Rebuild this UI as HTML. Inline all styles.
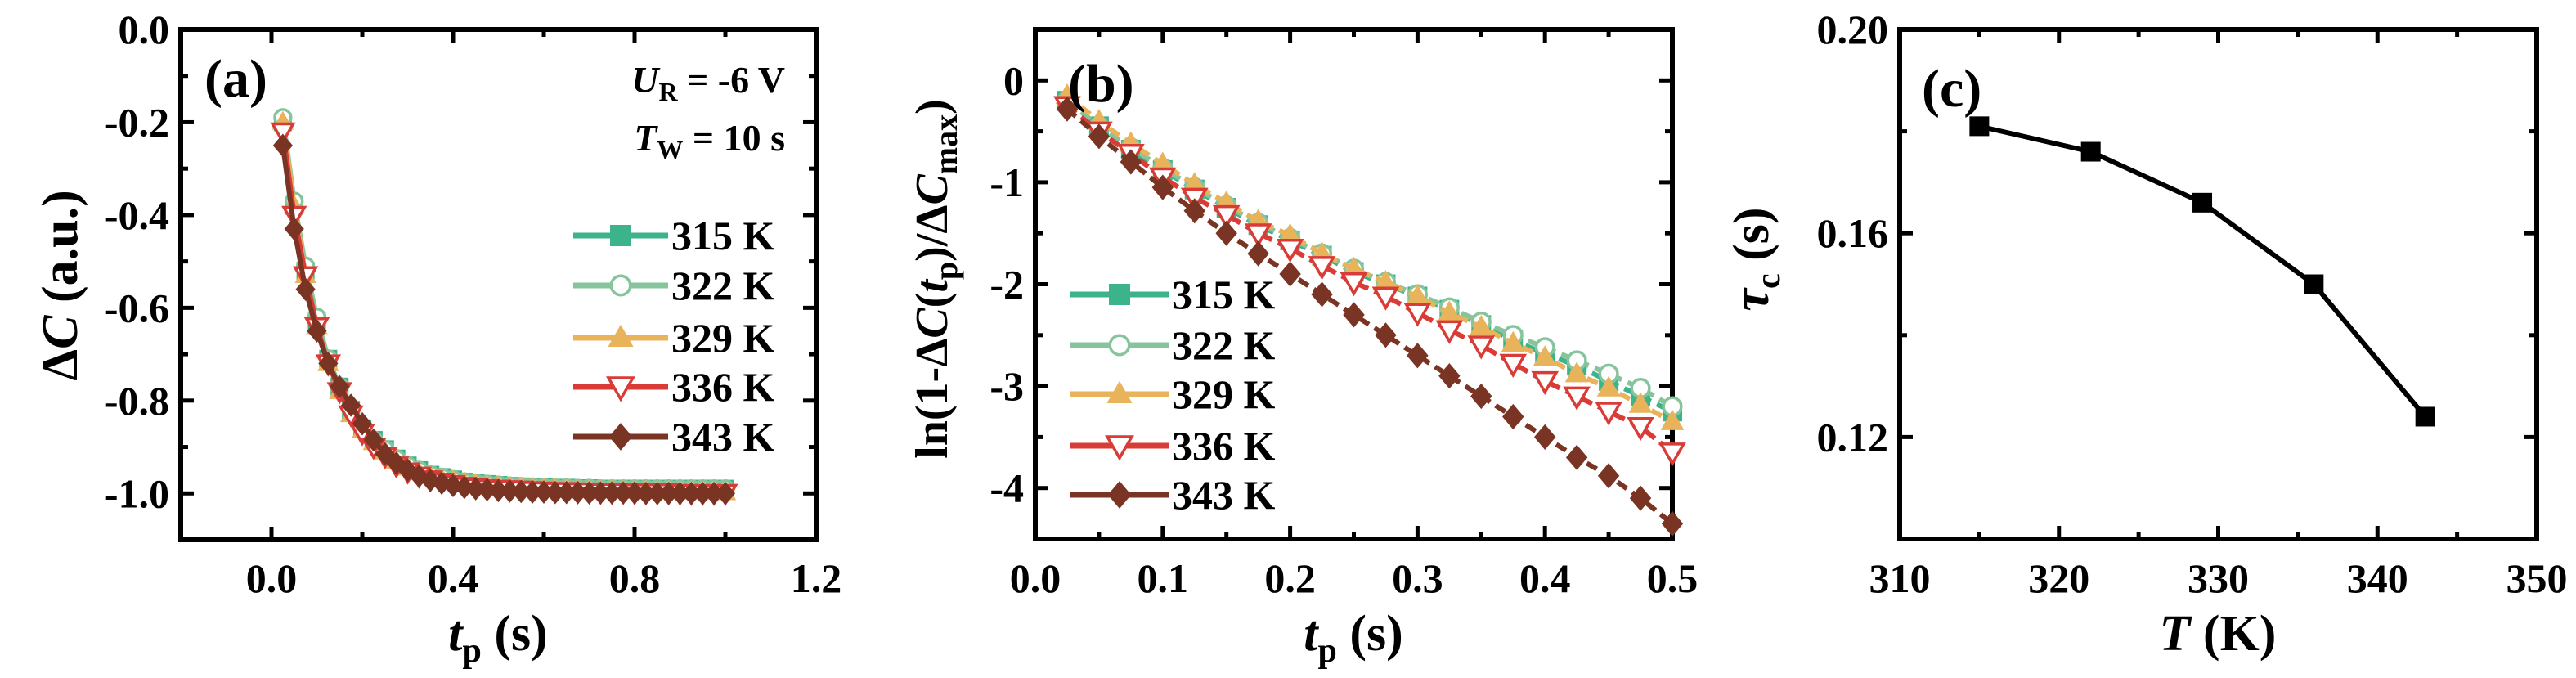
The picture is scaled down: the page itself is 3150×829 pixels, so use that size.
<!DOCTYPE html>
<html><head><meta charset="utf-8"><style>
html,body{margin:0;padding:0;background:#fff}
svg{display:block;font-family:"Liberation Serif",serif;font-weight:bold}
</style></head><body>
<svg id="fig" width="3150" height="829" viewBox="0 0 3150 829" xmlns="http://www.w3.org/2000/svg"></svg>
<script>
const NS="http://www.w3.org/2000/svg";
const svg=document.getElementById('fig');
const tempLabels=["315 K","322 K","329 K","336 K","343 K"];
const colors=["#3db38b","#86c49c","#e9b35c","#d93b36","#7a3423"];
const markers=["square","circle-open","triangle","tri-down-open","diamond"];
// Panel a data
const tA=[0.025,0.05,0.075,0.1,0.125,0.15,0.175,0.2,0.225,0.25,0.275,0.3,0.325,0.35,0.375,0.4,0.425,0.45,0.475,0.5,0.525,0.55,0.575,0.6,0.625,0.65,0.675,0.7,0.725,0.75,0.775,0.8,0.825,0.85,0.875,0.9,0.925,0.95,0.975,1.0];
const a315=[-0.2,-0.38,-0.52,-0.63,-0.71,-0.77,-0.82,-0.86,-0.885,-0.905,-0.925,-0.94,-0.95,-0.96,-0.965,-0.97,-0.975,-0.978,-0.98,-0.982,-0.984,-0.985,-0.986,-0.987,-0.988,-0.988,-0.989,-0.989,-0.99,-0.99,-0.99,-0.99,-0.99,-0.99,-0.99,-0.99,-0.99,-0.99,-0.99,-0.99];
const a322=[-0.19,-0.37,-0.51,-0.62,-0.71,-0.77,-0.82,-0.86,-0.885,-0.905,-0.925,-0.94,-0.95,-0.96,-0.965,-0.97,-0.975,-0.978,-0.98,-0.982,-0.984,-0.985,-0.986,-0.987,-0.988,-0.988,-0.989,-0.989,-0.99,-0.99,-0.99,-0.99,-0.99,-0.99,-0.99,-0.99,-0.99,-0.99,-0.99,-0.99];
const a329=[-0.2,-0.38,-0.53,-0.64,-0.72,-0.78,-0.83,-0.865,-0.89,-0.91,-0.93,-0.945,-0.955,-0.962,-0.968,-0.973,-0.977,-0.98,-0.983,-0.985,-0.987,-0.988,-0.989,-0.99,-0.991,-0.992,-0.993,-0.993,-0.994,-0.994,-0.995,-0.995,-0.995,-0.996,-0.996,-0.996,-0.997,-0.997,-0.997,-0.998];
const a336=[-0.22,-0.4,-0.53,-0.64,-0.72,-0.78,-0.83,-0.87,-0.9,-0.92,-0.94,-0.953,-0.962,-0.97,-0.975,-0.98,-0.984,-0.987,-0.989,-0.99,-0.991,-0.992,-0.993,-0.994,-0.995,-0.995,-0.996,-0.996,-0.997,-0.997,-0.997,-0.998,-0.998,-0.998,-0.998,-0.999,-0.999,-0.999,-0.999,-0.999];
const a343=[-0.25,-0.43,-0.56,-0.65,-0.72,-0.77,-0.81,-0.85,-0.885,-0.915,-0.935,-0.95,-0.963,-0.972,-0.978,-0.983,-0.987,-0.99,-0.992,-0.994,-0.995,-0.996,-0.997,-0.997,-0.998,-0.998,-0.998,-0.999,-0.999,-0.999,-0.999,-0.999,-1.0,-1.0,-1.0,-1.0,-1.0,-1.0,-1.0,-1.0];
// Panel b data
const tB=[0.025,0.05,0.075,0.1,0.125,0.15,0.175,0.2,0.225,0.25,0.275,0.3,0.325,0.35,0.375,0.4,0.425,0.45,0.475,0.5];
const b315=[-0.2,-0.45,-0.68,-0.88,-1.07,-1.25,-1.42,-1.57,-1.72,-1.88,-2.0,-2.12,-2.25,-2.4,-2.55,-2.68,-2.8,-2.95,-3.1,-3.25];
const b322=[-0.2,-0.45,-0.66,-0.86,-1.05,-1.23,-1.4,-1.55,-1.7,-1.85,-1.98,-2.1,-2.23,-2.37,-2.5,-2.62,-2.75,-2.88,-3.02,-3.2];
const b329=[-0.15,-0.4,-0.62,-0.82,-1.02,-1.2,-1.38,-1.52,-1.7,-1.85,-1.98,-2.12,-2.28,-2.42,-2.58,-2.72,-2.88,-3.02,-3.18,-3.35];
const b336=[-0.25,-0.5,-0.72,-0.95,-1.15,-1.32,-1.5,-1.65,-1.82,-1.98,-2.12,-2.28,-2.45,-2.6,-2.78,-2.95,-3.1,-3.25,-3.4,-3.65];
const b343=[-0.28,-0.55,-0.8,-1.05,-1.28,-1.5,-1.7,-1.9,-2.1,-2.3,-2.5,-2.7,-2.9,-3.1,-3.3,-3.5,-3.7,-3.88,-4.1,-4.35];
// Panel c data
const tempsC=[315,322,329,336,343];
const tauC=[0.181,0.176,0.166,0.150,0.124];
// tick labels
const ticksAX=["0.0","0.4","0.8","1.2"], ticksAY=["0.0","-0.2","-0.4","-0.6","-0.8","-1.0"];
const ticksBX=["0.0","0.1","0.2","0.3","0.4","0.5"], ticksBY=["0","-1","-2","-3","-4"];
const ticksCX=["310","320","330","340","350"], ticksCY=["0.20","0.16","0.12"];

function el(tag,attrs,parent){const e=document.createElementNS(NS,tag);for(const k in attrs)e.setAttribute(k,attrs[k]);(parent||svg).appendChild(e);return e;}
function scale(d0,d1,r0,r1){return v=>r0+(v-d0)/(d1-d0)*(r1-r0);}

function marker(g,type,x,y,r,color){
  let m;
  if(type==="square") m=el('rect',{x:x-r,y:y-r,width:2*r,height:2*r,fill:color},g);
  else if(type==="circle-open") m=el('circle',{cx:x,cy:y,r:r*0.9,fill:'#fff',stroke:color,'stroke-width':3.5},g);
  else if(type==="triangle") m=el('polygon',{points:`${x},${y-r*1.25} ${x+r*1.2},${y+r*0.85} ${x-r*1.2},${y+r*0.85}`,fill:color},g);
  else if(type==="tri-down-open") m=el('polygon',{points:`${x},${y+r*1.15} ${x+r*1.15},${y-r*0.85} ${x-r*1.15},${y-r*0.85}`,fill:'#fff',stroke:color,'stroke-width':3.5},g);
  else m=el('polygon',{points:`${x},${y-r*1.3} ${x+r*1.1},${y} ${x},${y+r*1.3} ${x-r*1.1},${y}`,fill:color},g);
  
  
  return m;
}

function frame(p,name){
  const g=el('g',{});
  
  
  const f=el('rect',{x:p.l,y:p.t,width:p.r-p.l,height:p.b-p.t,fill:'none',stroke:'#000','stroke-width':6},g);
  
  
  return g;
}
function ticks(g,p,sx,sy,xMaj,xMin,yMaj,yMin,xLab,yLab){
  const L=16,l=9;
  xMin.forEach(v=>{const x=sx(v);el('line',{x1:x,y1:p.b,x2:x,y2:p.b-l,stroke:'#000','stroke-width':5},g);el('line',{x1:x,y1:p.t,x2:x,y2:p.t+l,stroke:'#000','stroke-width':5},g);});
  yMin.forEach(v=>{const y=sy(v);el('line',{x1:p.l,y1:y,x2:p.l+l,y2:y,stroke:'#000','stroke-width':5},g);el('line',{x1:p.r,y1:y,x2:p.r-l,y2:y,stroke:'#000','stroke-width':5},g);});
  xMaj.forEach((v,i)=>{const x=sx(v);el('line',{x1:x,y1:p.b,x2:x,y2:p.b-L,stroke:'#000','stroke-width':5},g);el('line',{x1:x,y1:p.t,x2:x,y2:p.t+L,stroke:'#000','stroke-width':5},g);
    const t=el('text',{x:x,y:724,'font-size':50,'text-anchor':'middle'},g);t.textContent=xLab[i];
    
    });
  yMaj.forEach((v,i)=>{const y=sy(v);el('line',{x1:p.l,y1:y,x2:p.l+L,y2:y,stroke:'#000','stroke-width':5},g);el('line',{x1:p.r,y1:y,x2:p.r-L,y2:y,stroke:'#000','stroke-width':5},g);
    const t=el('text',{x:p.l-14,y:y+17,'font-size':50,'text-anchor':'end'},g);t.textContent=yLab[i];
    
    });
}
function series(g,xs,ys,sx,sy,color,mk,r,dash){
  const s=el('g',{},g);
  
  
  const pts=xs.map((x,i)=>sx(x)+','+sy(ys[i])).join(' ');
  el('polyline',{points:pts,fill:'none',stroke:color,'stroke-width':6,'stroke-dasharray':dash||'none'},s);
  xs.forEach((x,i)=>marker(s,mk,sx(x),sy(ys[i]),r,color));
}
function legend(g,x0,x1,ys){
  tempLabels.forEach((lab,i)=>{
    const e=el('g',{},g);
    
    
    el('line',{x1:x0,y1:ys[i],x2:x1,y2:ys[i],stroke:colors[i],'stroke-width':7},e);
    marker(e,markers[i],(x0+x1)/2,ys[i],13,colors[i]);
    const t=el('text',{x:x1+4,y:ys[i]+17,'font-size':50},e);t.textContent=lab;
  });
}
function text(x,y,html,attrs,name){const t=el('text',Object.assign({x:x,y:y},attrs||{}));t.innerHTML=html;
  
  return t;}

// Panel a
{const p={l:221,r:998,t:36,b:660};
 const sx=scale(-0.2,1.2,p.l,p.r), sy=scale(0,-1.1,p.t,p.b);
 const g=frame(p,'panel-a');
 ticks(g,p,sx,sy,[0,0.4,0.8,1.2],[0.2,0.6,1.0],[0,-0.2,-0.4,-0.6,-0.8,-1.0],[-0.1,-0.3,-0.5,-0.7,-0.9],ticksAX,ticksAY);
 [a315,a322,a329,a336,a343].forEach((d,i)=>series(g,tA,d,sx,sy,colors[i],markers[i],11));
 legend(g,701,817,[288,349,413,473,534]);
 text(250,118,'(a)',{'font-size':66},'panel-a-label');
 text(960,113,'<tspan font-style="italic">U</tspan><tspan font-size="32" dy="10">R</tspan><tspan dy="-10"> = -6 V</tspan>',{'font-size':46,'text-anchor':'end'},'bias-annotation');
 text(960,184,'<tspan font-style="italic">T</tspan><tspan font-size="32" dy="10">W</tspan><tspan dy="-10"> = 10 s</tspan>',{'font-size':46,'text-anchor':'end'},'time-annotation');
 text(609,795,'<tspan font-style="italic">t</tspan><tspan font-size="42" dy="14">p</tspan><tspan dy="-14"> (s)</tspan>',{'font-size':62,'text-anchor':'middle'},'x-axis-title-a');
 text(0,0,'Δ<tspan font-style="italic">C</tspan> (a.u.)',{'font-size':62,'text-anchor':'middle',transform:'translate(94,349) rotate(-90)'},'y-axis-title-a');
}
// Panel b
{const p={l:1266,r:2045,t:36,b:659};
 const sx=scale(0,0.5,p.l,p.r), sy=scale(0.5,-4.5,p.t,p.b);
 const g=frame(p,'panel-b');
 ticks(g,p,sx,sy,[0,0.1,0.2,0.3,0.4,0.5],[0.05,0.15,0.25,0.35,0.45],[0,-1,-2,-3,-4],[0.5,-0.5,-1.5,-2.5,-3.5],ticksBX,ticksBY);
 [b315,b322,b329,b336,b343].forEach((d,i)=>series(g,tB,d,sx,sy,colors[i],markers[i],12,'14,8'));
 legend(g,1309,1429,[360,422,482,545,605]);
 text(1306,124,'(b)',{'font-size':66},'panel-b-label');
 text(1655,795,'<tspan font-style="italic">t</tspan><tspan font-size="42" dy="14">p</tspan><tspan dy="-14"> (s)</tspan>',{'font-size':62,'text-anchor':'middle'},'x-axis-title-b');
 text(0,0,'ln(1-Δ<tspan font-style="italic">C</tspan>(<tspan font-style="italic">t</tspan><tspan font-size="40" dy="12">p</tspan><tspan dy="-12">)/Δ</tspan><tspan font-style="italic">C</tspan><tspan font-size="40" dy="12">max</tspan><tspan dy="-12">)</tspan>',{'font-size':56,'text-anchor':'middle',transform:'translate(1158,341) rotate(-90)'},'y-axis-title-b');
}
// Panel c
{const p={l:2323,r:3102,t:36,b:659};
 const sx=scale(310,350,p.l,p.r), sy=scale(0.2,0.1,p.t,p.b);
 const g=frame(p,'panel-c');
 ticks(g,p,sx,sy,[310,320,330,340,350],[315,325,335,345],[0.2,0.16,0.12],[0.18,0.14],ticksCX,ticksCY);
 series(g,tempsC,tauC,sx,sy,'#000','square',12);
 text(2350,130,'(c)',{'font-size':66},'panel-c-label');
 text(2712,795,'<tspan font-style="italic">T</tspan> (K)',{'font-size':62,'text-anchor':'middle'},'x-axis-title-c');
 text(0,0,'<tspan font-style="italic">τ</tspan><tspan font-size="42" dy="14">c</tspan><tspan dy="-14"> (s)</tspan>',{'font-size':62,'text-anchor':'middle',transform:'translate(2162,317) rotate(-90)'},'y-axis-title-c');
}
</script>
</body></html>
